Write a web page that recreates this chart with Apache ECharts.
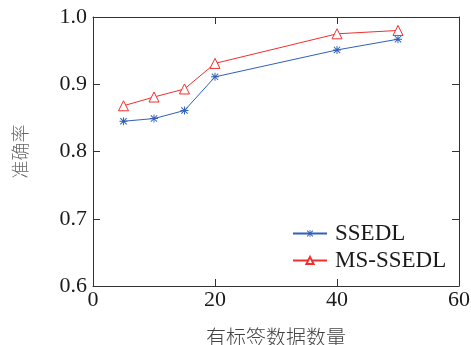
<!DOCTYPE html>
<html>
<head>
<meta charset="utf-8">
<script src="https://cdn.jsdelivr.net/npm/echarts@6/dist/echarts.min.js"></script>
<style>html,body{margin:0;padding:0;background:#fff;}#c{width:471px;height:345px;}</style>
</head>
<body>
<div id="c"></div>
<script>
const xValues = [5, 10, 15, 20, 40, 50];
const ssedl = [0.845, 0.849, 0.861, 0.911, 0.951, 0.967];
const msSsedl = [0.868, 0.881, 0.893, 0.931, 0.975, 0.980];
const seriesNames = ['SSEDL', 'MS-SSEDL'];
const xName = '有标签数据数量';
const yName = '准确率';

const asterisk = 'path://M8.8 0H11.2V20H8.8Z M0 8.8H20V11.2H0Z M1.2 2.9L2.9 1.2L18.8 17.1L17.1 18.8Z M17.1 1.2L18.8 2.9L2.9 18.8L1.2 17.1Z';
const serif = '"Liberation Serif", "Times New Roman", serif';
const cjk = '"Noto Sans CJK SC", sans-serif';
const axisColor = '#333';

const chart = echarts.init(document.getElementById('c'));
const baseX = {
  type: 'value', min: 0, max: 60, interval: 20,
  axisLine: {show: true, onZero: false, lineStyle: {color: axisColor, width: 1}},
  axisTick: {show: true, inside: true, length: 7, lineStyle: {color: axisColor}},
  splitLine: {show: false}
};
const baseY = {
  type: 'value', min: 0.6, max: 1.0, interval: 0.1,
  axisLine: {show: true, onZero: false, lineStyle: {color: axisColor, width: 1}},
  axisTick: {show: true, inside: true, length: 7, lineStyle: {color: axisColor}},
  splitLine: {show: false}
};
chart.setOption({
  animation: false,
  backgroundColor: '#fff',
  grid: {left: 93, right: 12, top: 17, bottom: 59, containLabel: false, outerBoundsMode: 'none'},
  xAxis: [
    Object.assign({}, baseX, {
      position: 'bottom',
      name: xName, nameLocation: 'middle', nameGap: 41,
      nameTextStyle: {fontFamily: cjk, fontSize: 20, color: '#444', fontWeight: 300},
      axisLabel: {fontFamily: serif, fontSize: 22, color: '#1a1a1a', margin: 3}
    }),
    Object.assign({}, baseX, {position: 'top', axisLabel: {show: false}})
  ],
  yAxis: [
    Object.assign({}, baseY, {
      position: 'left',
      name: yName, nameLocation: 'middle', nameGap: 64, nameRotate: 90,
      nameTextStyle: {fontFamily: cjk, fontSize: 18, color: '#666', fontWeight: 300},
      axisLabel: {fontFamily: serif, fontSize: 22, color: '#1a1a1a', margin: 6,
        formatter: v => v.toFixed(1)}
    }),
    Object.assign({}, baseY, {position: 'right', axisLabel: {show: false}})
  ],
  legend: {
    orient: 'vertical', left: 292, top: 222, padding: 0,
    itemWidth: 34, itemHeight: 9, itemGap: 4,
    textStyle: {fontFamily: serif, fontSize: 23, color: '#1a1a1a', padding: [0, 0, 0, 3]},
    data: seriesNames
  },
  series: [
    {
      name: seriesNames[0], type: 'line',
      data: xValues.map((x, i) => [x, ssedl[i]]),
      symbol: asterisk, symbolSize: 8,
      lineStyle: {color: '#3060b8', width: 1},
      itemStyle: {color: '#3060b8'}
    },
    {
      name: seriesNames[1], type: 'line',
      data: xValues.map((x, i) => [x, msSsedl[i]]),
      symbol: 'triangle', symbolSize: 10,
      lineStyle: {color: '#f03030', width: 1},
      itemStyle: {color: '#fff', borderColor: '#f03030', borderWidth: 1}
    }
  ]
});
</script>
</body>
</html>
